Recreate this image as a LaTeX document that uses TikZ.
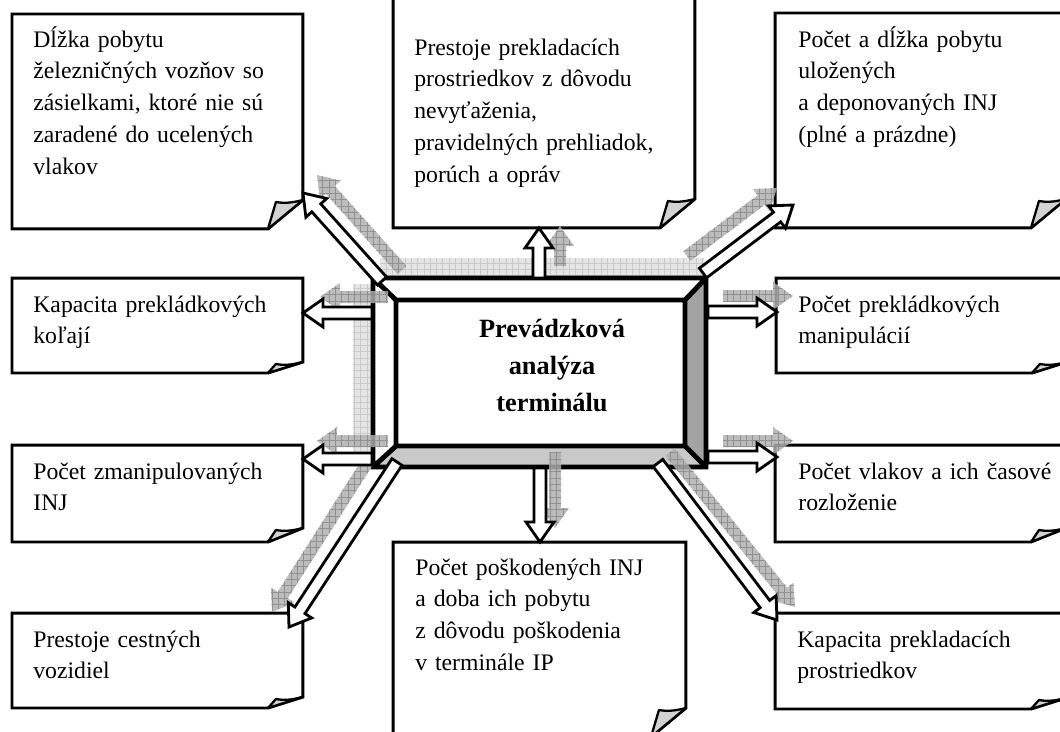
\documentclass[tikz,border=0pt]{standalone}
\usepackage{fontspec}
\setmainfont{Liberation Serif}
\usetikzlibrary{calc,patterns.meta}

\newcommand{\boxfont}{\fontsize{13.5}{18.1}\selectfont}
\newcommand{\titlefont}{\fontsize{15}{21.3}\selectfont\bfseries}

% rozmery sipok
\newcommand{\arrw}{0.12cm}
\newcommand{\arrW}{0.28cm}
\newcommand{\arrh}{0.40cm}

% sipka z #2 do #3
\newcommand{\blockarrow}[3][]{%
  \draw[#1] ($(#2)!\arrw!90:(#3)$)
    -- ($(#3)!\arrh!(#2)!\arrw!-90:(#2)$)
    -- ($(#3)!\arrh!(#2)!\arrW!-90:(#2)$)
    -- (#3)
    -- ($(#3)!\arrh!(#2)!\arrW!90:(#2)$)
    -- ($(#3)!\arrh!(#2)!\arrw!90:(#2)$)
    -- ($(#2)!\arrw!-90:(#3)$) -- cycle;}

% ramik s prehnutym rohom
\newcommand{\foldbox}[3]{%
  \draw[boxline] (#1.north west) -- (#1.north east)
    -- ($(#1.south east)+(0,-#3)$) -- ($(#1.south east)+(-#2,0)$)
    -- (#1.south west) -- cycle;
  \draw[flap] ($(#1.south east)+(-#2,0)$) -- ($(#1.south east)+(-#2+8,-#3+2)$)
    .. controls +(10,2) and +(-8,2) .. ($(#1.south east)+(0,-#3)$) -- cycle;}

\begin{document}
\begin{tikzpicture}[x=0.02cm, y=-0.02cm,
    boxline/.style={draw=black, line width=1.7pt, fill=white},
    flap/.style={draw=black, line width=1.3pt, fill=gray!35, line join=round},
    box/.style={anchor=north west, inner sep=0pt, outer sep=0pt},
    boxtext/.style={anchor=base west, align=left, text width=5.3cm, inner sep=0pt, font=\boxfont},
    bevel/.style={draw=black, line width=2.8pt},
    whitearrow/.style={draw=black, fill=white, line width=1.6pt},
    shadowarrow/.style={draw=none, fill=gray!62, opacity=.85,
      postaction={pattern={Hatch[angle=0,distance=3.6pt,line width=.3pt]}, pattern color=gray!92}},
    boxshadow/.style={fill=gray!20,
      postaction={pattern={Hatch[angle=0,distance=3.6pt,line width=.3pt]}, pattern color=gray!42}}]

    \useasboundingbox (0,0) rectangle (1060,731);
    \clip (0,0) rectangle (1060,731);

    % tien stredneho ramca
    \fill[boxshadow] (380,258) rectangle (704,278);
    \fill[boxshadow] (353,284) rectangle (373,466);

    % stredny ramec
    \coordinate (o1) at (373,278);
    \coordinate (o2) at (706,278);
    \coordinate (o3) at (706,467);
    \coordinate (o4) at (373,467);
    \coordinate (i1) at (396,300);
    \coordinate (i2) at (685,300);
    \coordinate (i3) at (685,446);
    \coordinate (i4) at (396,446);
    \fill[white] (o1) rectangle (o3);
    \fill[gray!72] (o2) -- (o3) -- (i3) -- (i2) -- cycle;
    \fill[gray!42] (o3) -- (o4) -- (i4) -- (i3) -- cycle;
    \draw[bevel] (o1) rectangle (o3) (i1) rectangle (i3)
        (o1) -- (i1) (o2) -- (i2) (o3) -- (i3) (o4) -- (i4);
    \node[font=\titlefont, align=center, text width=5cm, anchor=base, inner sep=0pt]
        (analyza) at (552,337) {Prevádzková\\analýza\\terminálu};

    % ramiky
    \node[box, minimum width=5.82cm, minimum height=4.30cm] (dlzka) at (12,14) {};
    \node[box, minimum width=6.04cm, minimum height=4.76cm] (prestoje) at (393,-10) {};
    \node[box, minimum width=5.82cm, minimum height=4.30cm] (pobyt) at (775,13) {};
    \node[box, minimum width=5.82cm, minimum height=1.90cm] (kolaje) at (12,278) {};
    \node[box, minimum width=5.82cm, minimum height=1.94cm] (zmanip) at (12,445) {};
    \node[box, minimum width=5.82cm, minimum height=1.90cm] (cestne) at (12,613) {};
    \node[box, minimum width=5.86cm, minimum height=3.90cm] (poskod) at (393,542) {};
    \node[box, minimum width=5.82cm, minimum height=1.90cm] (manip) at (776,278) {};
    \node[box, minimum width=5.82cm, minimum height=1.94cm] (vlaky) at (775,445) {};
    \node[box, minimum width=5.82cm, minimum height=1.92cm] (kapacita) at (775,613) {};

    % tiene sipok
    \coordinate (dlzka-sa) at (402,270);    \coordinate (dlzka-sb) at (317,175);
    \coordinate (prestoje-sa) at (560,266); \coordinate (prestoje-sb) at (560,226);
    \coordinate (pobyt-sa) at (687,256);    \coordinate (pobyt-sb) at (777,188);
    \coordinate (kolaje-sa) at (388,297);   \coordinate (kolaje-sb) at (320,297);
    \coordinate (zmanip-sa) at (388,441);   \coordinate (zmanip-sb) at (317,441);
    \coordinate (cestne-sa) at (367,463);   \coordinate (cestne-sb) at (272,612);
    \coordinate (poskod-sa) at (555,452);   \coordinate (poskod-sb) at (555,528);
    \coordinate (kapacita-sa) at (670,452); \coordinate (kapacita-sb) at (795,607);
    \coordinate (manip-sa) at (723,296);    \coordinate (manip-sb) at (793,296);
    \coordinate (vlaky-sa) at (723,441);    \coordinate (vlaky-sb) at (793,441);

    \foreach \n/\fh in {dlzka/29,prestoje/29,pobyt/29,kolaje/11,zmanip/14,
                        cestne/11,poskod/29,manip/11,vlaky/14,kapacita/11}
    {
        \foldbox{\n}{35}{\fh}
    }

    \foreach \n in {dlzka,prestoje,pobyt,kolaje,zmanip,cestne,poskod,kapacita,manip,vlaky}
        \blockarrow[shadowarrow]{\n-sa}{\n-sb};

    % texty
    \node[boxtext] (dlzka-t) at ($(dlzka.north west)+(21,33)$)
        {Dĺžka pobytu\\železničných vozňov so\\zásielkami, ktoré nie sú\\zaradené do ucelených\\vlakov};
    \node[boxtext] (prestoje-t) at ($(prestoje.north west)+(21,65)$)
        {Prestoje prekladacích\\prostriedkov z dôvodu\\nevyťaženia,\\pravidelných prehliadok,\\porúch a opráv};
    \node[boxtext] (pobyt-t) at ($(pobyt.north west)+(23,34)$)
        {Počet a dĺžka pobytu\\uložených\\a deponovaných INJ\\(plné a prázdne)};
    \node[boxtext] (kolaje-t) at ($(kolaje.north west)+(21,34)$)
        {Kapacita prekládkových\\koľají};
    \node[boxtext] (zmanip-t) at ($(zmanip.north west)+(21,34)$)
        {Počet zmanipulovaných\\INJ};
    \node[boxtext] (cestne-t) at ($(cestne.north west)+(21,34)$)
        {Prestoje cestných\\vozidiel};
    \node[boxtext] (poskod-t) at ($(poskod.north west)+(22,33)$)
        {Počet poškodených INJ\\a doba ich pobytu\\z dôvodu poškodenia\\v terminále IP};
    \node[boxtext] (manip-t) at ($(manip.north west)+(22,34)$)
        {Počet prekládkových\\manipulácií};
    \node[boxtext] (vlaky-t) at ($(vlaky.north west)+(23,34)$)
        {Počet vlakov a ich časové\\rozloženie};
    \node[boxtext] (kapacita-t) at ($(kapacita.north west)+(22,34)$)
        {Kapacita prekladacích\\prostriedkov};

    % sipky
    \coordinate (dlzka-a) at (382,281);     \coordinate (dlzka-b) at ($(dlzka.south east)+(0,-36)$);
    \coordinate (prestoje-a) at (539,278);  \coordinate (prestoje-b) at (539,228);
    \coordinate (pobyt-a) at (703,273);     \coordinate (pobyt-b) at (793,205);
    \coordinate (kolaje-a) at (372,313);    \coordinate (kolaje-b) at (303,313);
    \coordinate (zmanip-a) at (372,459);    \coordinate (zmanip-b) at (303,459);
    \coordinate (cestne-a) at (397,462);    \coordinate (cestne-b) at (289,627);
    \coordinate (poskod-a) at (540,468);    \coordinate (poskod-b) at (poskod.north -| poskod-a);
    \coordinate (kapacita-a) at (658,463);  \coordinate (kapacita-b) at (777,620);
    \coordinate (manip-a) at (708,312);     \coordinate (manip-b) at (777,312);
    \coordinate (vlaky-a) at (708,457);     \coordinate (vlaky-b) at (777,457);

    \foreach \n in {dlzka,prestoje,pobyt,kolaje,zmanip,cestne,poskod,kapacita,manip,vlaky}
        \blockarrow[whitearrow]{\n-a}{\n-b};

\end{tikzpicture}
\end{document}
